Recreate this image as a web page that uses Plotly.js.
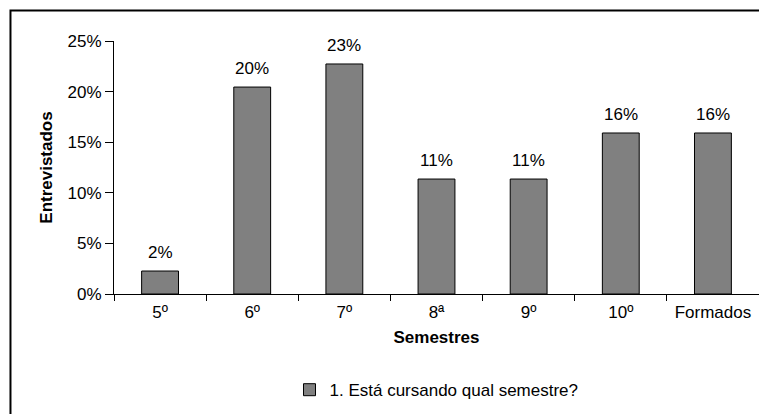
<!DOCTYPE html>
<html>
<head>
<meta charset="utf-8">
<script src="https://cdn.plot.ly/plotly-3.0.1.min.js"></script>
<style>html,body{margin:0;padding:0;background:#fff;}#chart{width:759px;height:414px;}</style>
</head>
<body>
<div id="chart"></div>
<script>
const categories = ['5º', '6º', '7º', '8ª', '9º', '10º', 'Formados'];
const values = [2.27, 20.45, 22.73, 11.36, 11.36, 15.91, 15.91];
const labels = ['2%', '20%', '23%', '11%', '11%', '16%', '16%'];
const yTickVals = [0, 5, 10, 15, 20, 25];
const yTickText = ['0%', '5%', '10%', '15%', '20%', '25%'];
const seriesName = '1. Está cursando qual semestre?';

const FONT = 'Liberation Sans, Arial, sans-serif';

const trace = {
  type: 'bar',
  x: categories,
  y: values,
  name: seriesName,
  marker: {color: '#808080', line: {color: '#000000', width: 1}},
  showlegend: true,
  hoverinfo: 'none'
};

const annotations = categories.map((c, i) => ({
  x: c, y: values[i], xref: 'x', yref: 'y',
  text: labels[i], showarrow: false,
  yanchor: 'bottom', yshift: 7,
  font: {family: FONT, size: 17, color: '#000'}
}));

const layout = {
  width: 759, height: 414,
  margin: {l: 114, r: 0, t: 41, b: 120},
  paper_bgcolor: '#fff', plot_bgcolor: '#fff',
  font: {family: FONT, size: 17, color: '#000'},
  bargap: 0.6,
  xaxis: {
    type: 'category',
    range: [-0.5, 6.5],
    showline: true, linecolor: '#000', linewidth: 1,
    ticks: 'outside', tickson: 'boundaries', ticklen: 6, tickcolor: '#000',
    showgrid: false, zeroline: false,
    ticklabelstandoff: 3,
    title: {text: '<b>Semestres</b>', font: {family: FONT, size: 17}, standoff: 9},
    fixedrange: true
  },
  yaxis: {
    range: [0, 25],
    tickvals: yTickVals, ticktext: yTickText,
    showline: true, linecolor: '#000', linewidth: 1,
    ticks: 'outside', ticklen: 8, tickcolor: '#000',
    showgrid: false, zeroline: false,
    title: {text: '<b>Entrevistados</b>', font: {family: FONT, size: 17}, standoff: 10},
    fixedrange: true
  },
  legend: {
    orientation: 'h', x: 0.5, xanchor: 'center', y: -0.38, yanchor: 'middle',
    font: {family: FONT, size: 17}, bgcolor: 'rgba(0,0,0,0)', itemwidth: 30
  },
  annotations: annotations,
  shapes: [{
    type: 'rect', xref: 'paper', yref: 'paper',
    x0: -0.1605, x1: 1.05, y0: -0.6, y1: 1.1206,
    line: {color: '#000', width: 2}, fillcolor: 'rgba(0,0,0,0)', layer: 'below'
  }]
};

Plotly.newPlot('chart', [trace], layout, {displayModeBar: false, staticPlot: true});
</script>
</body>
</html>
